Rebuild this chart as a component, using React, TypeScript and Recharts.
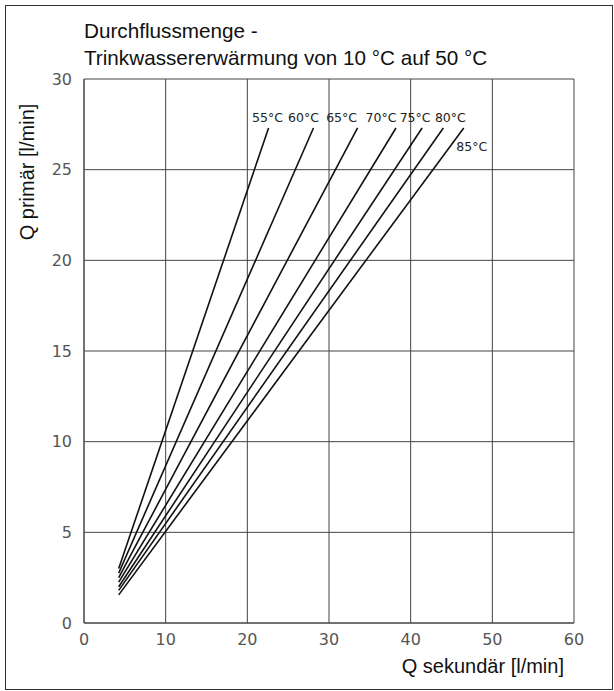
import React from "react"
import { LineChart, Line, XAxis, YAxis, CartesianGrid } from "recharts"

document.body.style.margin = "0"

// curve names (primary flow temperature)
const curves = ["55°C", "60°C", "65°C", "70°C", "75°C", "80°C", "85°C"]

// Q sekundär at the start / end of each curve
const xStart = [4.25, 4.25, 4.25, 4.25, 4.25, 4.25, 4.25]
const xEnd = [22.6, 28.1, 33.5, 38.2, 41.4, 44.0, 46.5]

// Q primär at the start / end of each curve
const yStart = [3.0, 2.75, 2.5, 2.25, 2.0, 1.8, 1.55]
const yEnd = [27.3, 27.3, 27.3, 27.3, 27.3, 27.3, 27.3]

const xTicks = [0, 10, 20, 30, 40, 50, 60]
const yTicks = [0, 5, 10, 15, 20, 25, 30]

// where the curve name sits relative to the curve end
const labelOffset = [
  [-1, -6],
  [-10, -6],
  [-16, -6],
  [-15, -6],
  [-7, -6],
  [7, -6],
  [8, 23],
]

const tickStyle = { fontFamily: "DejaVu Sans", fontSize: 16, fill: "#555" }
const textStyle: React.CSSProperties = {
  position: "absolute",
  fontFamily: "Liberation Sans",
  fontSize: 20,
  color: "#111",
  lineHeight: "20px",
  whiteSpace: "nowrap",
}

export default function App() {
  const series = curves.map((name, i) => ({
    name,
    data: [
      { x: xStart[i], y: yStart[i] },
      { x: xEnd[i], y: yEnd[i] },
    ],
  }))

  return (
    <div style={{ position: "relative", width: 614, height: 691, background: "#fff" }}>
      <div
        style={{
          position: "absolute",
          left: 5,
          top: 5,
          width: 606,
          height: 683,
          border: "1.5px solid #333",
        }}
      />
      <div style={{ ...textStyle, fontSize: 20.7, left: 84, top: 21 }}>Durchflussmenge -</div>
      <div style={{ ...textStyle, fontSize: 20.7, left: 84, top: 48 }}>
        Trinkwassererwärmung von 10 °C auf 50 °C
      </div>
      <div
        style={{
          ...textStyle,
          left: 27,
          top: 172,
          transform: "translate(-50%, -50%) rotate(-90deg)",
        }}
      >
        Q primär [l/min]
      </div>
      <div style={{ ...textStyle, right: 614 - 564, top: 656 }}>Q sekundär [l/min]</div>

      <LineChart
        width={614}
        height={691}
        margin={{ top: 79, right: 40, bottom: 38, left: 44 }}
        style={{ position: "absolute", left: 0, top: 0 }}
      >
        <CartesianGrid stroke="#444" strokeWidth={1} />
        <XAxis
          type="number"
          dataKey="x"
          domain={[0, 60]}
          ticks={xTicks}
          height={30}
          tickLine={false}
          tickMargin={5}
          axisLine={{ stroke: "#444" }}
          tick={tickStyle}
          allowDuplicatedCategory={false}
        />
        <YAxis
          type="number"
          dataKey="y"
          domain={[0, 30]}
          ticks={yTicks}
          width={40}
          tickLine={false}
          tickMargin={6}
          axisLine={{ stroke: "#444" }}
          tick={tickStyle}
        />
        {series.map((s, i) => (
          <Line
            key={s.name}
            data={s.data}
            dataKey="y"
            stroke="#111"
            strokeWidth={1.6}
            dot={false}
            isAnimationActive={false}
            label={(p: any) =>
              p.index === 1 ? (
                <text
                  key={s.name}
                  x={p.x + labelOffset[i][0]}
                  y={p.y + labelOffset[i][1]}
                  textAnchor="middle"
                  fontFamily="DejaVu Sans"
                  fontSize={12.5}
                  fill="#222"
                >
                  {s.name}
                </text>
              ) : null
            }
          />
        ))}
      </LineChart>
    </div>
  )
}
